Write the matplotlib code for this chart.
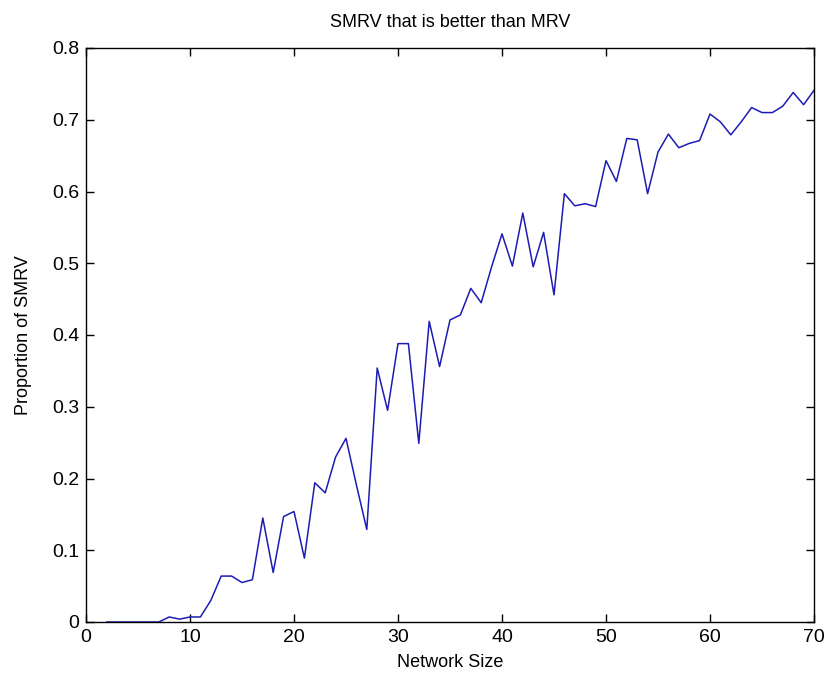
import matplotlib
matplotlib.use("Agg")
import matplotlib.pyplot as plt
import numpy as np

network_size = list(range(2, 71))
proportion = [
    0.000, 0.000, 0.000, 0.000, 0.000, 0.000,          # 2-7
    0.007, 0.004, 0.007, 0.007,                         # 8-11
    0.030, 0.064, 0.064, 0.055, 0.059,                  # 12-16
    0.145, 0.069, 0.147, 0.154, 0.089,                  # 17-21
    0.194, 0.180, 0.230, 0.256, 0.191,                  # 22-26
    0.129, 0.354, 0.295, 0.388, 0.388,                  # 27-31
    0.249, 0.419, 0.356, 0.421, 0.428,                  # 32-36
    0.465, 0.445, 0.495, 0.541, 0.496,                  # 37-41
    0.570, 0.495, 0.543, 0.456, 0.597,                  # 42-46
    0.580, 0.583, 0.579, 0.643, 0.614,                  # 47-51
    0.674, 0.672, 0.597, 0.655, 0.680,                  # 52-56
    0.661, 0.667, 0.671, 0.708, 0.697,                  # 57-61
    0.679, 0.697, 0.717, 0.710, 0.710,                  # 62-66
    0.719, 0.738, 0.721, 0.741,                         # 67-70
]
x_ticks = [0, 10, 20, 30, 40, 50, 60, 70]
y_ticks = [0, 0.1, 0.2, 0.3, 0.4, 0.5, 0.6, 0.7, 0.8]
y_tick_labels = ["0", "0.1", "0.2", "0.3", "0.4", "0.5", "0.6", "0.7", "0.8"]

plt.rcParams['font.family'] = ['Liberation Sans', 'DejaVu Sans']

fig = plt.figure(figsize=(8.27, 6.78), dpi=100)
ax = fig.add_axes([86/827, 1 - 622/678, (814-86)/827, (622-48)/678])
ax.plot(network_size, proportion, color='#1c1cb4', linewidth=1.1)
ax.set_xlim(0, 70)
ax.set_ylim(0, 0.8)
ax.set_xticks(x_ticks)
ax.set_yticks(y_ticks)
ax.set_yticklabels(y_tick_labels)
ax.tick_params(direction='in', length=6, width=1, top=True, right=True,
               labelsize=14, pad=5)
for s in ax.spines.values():
    s.set_linewidth(1)
ax.set_title("SMRV that is better than MRV", fontsize=13, pad=15)
ax.set_xlabel("Network Size", fontsize=13, labelpad=6)
ax.set_ylabel("Proportion of SMRV", fontsize=13, labelpad=14)
fig.savefig("out.png", dpi=100)
